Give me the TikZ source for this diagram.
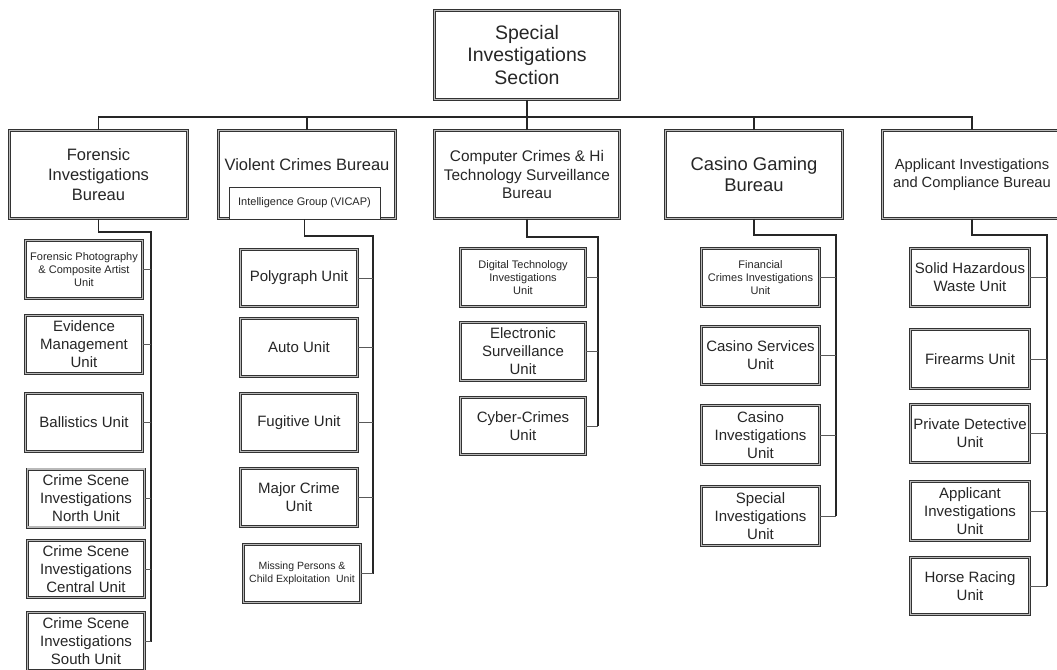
\documentclass[tikz,border=0pt]{standalone}
\usepackage{fontspec}
\setmainfont{Liberation Sans}
\begin{document}
\begin{tikzpicture}[x=1pt,y=-1pt,
  dbox/.style={draw=black!80, line width=0.7pt, double=gray!55, double distance=1.6pt,
    fill=white, align=center, inner sep=0pt, text=black!85},
  ubox/.style={dbox, font=\fontsize{15}{18}\selectfont},
  sbox/.style={dbox, font=\fontsize{11}{13}\selectfont},
  sgl/.style={draw=black!80, line width=0.8pt, fill=white, inner sep=0pt, text=black!85,
    font=\fontsize{11}{13}\selectfont},
  busline/.style={draw=black!85, line width=1.2pt},
  trunk/.style={draw=black!85, line width=1.3pt},
  stub/.style={draw=black!65, line width=0.9pt}]
\useasboundingbox (0,0) rectangle (1057,669);
\fill[white] (0,0) rectangle (1057,669);
\clip (0,0) rectangle (1057,669);

% top
\node[dbox, font=\fontsize{19.5}{22.5}\selectfont, minimum width=185pt, minimum height=89pt] (sis) at (527,55) {Special\\Investigations\\Section};

% level 2
\node[dbox, font=\fontsize{16.5}{20}\selectfont, minimum width=178pt, minimum height=88pt] (fib) at (98.5,174.5) {Forensic\\Investigations\\Bureau};
\node[dbox, font=\fontsize{16.5}{20}\selectfont, minimum width=177pt, minimum height=88pt, text depth=0pt] (vcb) at (307,174.5) {};
\node[font=\fontsize{16.5}{20}\selectfont, text=black!85, inner sep=0pt] (vcbt) at (307,165) {Violent Crimes Bureau};
\node[sgl, minimum width=151pt, minimum height=32pt] (vicap) at (304.5,203) {Intelligence Group (VICAP)};
\node[dbox, font=\fontsize{15.4}{18.5}\selectfont, minimum width=185pt, minimum height=88pt] (ccb) at (527,174.5) {Computer Crimes \& Hi\\Technology Surveillance\\Bureau};
\node[dbox, font=\fontsize{18.4}{21}\selectfont, minimum width=177pt, minimum height=88pt] (cgb) at (754,174.5) {Casino Gaming\\Bureau};
\node[dbox, font=\fontsize{14.7}{18}\selectfont, minimum width=179pt, minimum height=88pt] (aib) at (972,174.5) {Applicant Investigations\\and Compliance Bureau};

% bus
\coordinate (bus) at (527,117);
\draw[busline] (sis.south) -- (sis.south |- bus);
\draw[busline] (fib.north) -- (fib.north |- bus) -- (aib.north |- bus) -- (aib.north);
\draw[busline] (vcb.north) -- (vcb.north |- bus);
\draw[busline] (ccb.north) -- (ccb.north |- bus);
\draw[busline] (cgb.north) -- (cgb.north |- bus);

% Forensic children
\node[sbox, minimum width=117pt, minimum height=58pt] (f1) at (84,269.5) {Forensic Photography\\\& Composite Artist\\Unit};
\node[ubox, minimum width=117pt, minimum height=58pt] (f2) at (84,344.5) {Evidence\\Management\\Unit};
\node[ubox, minimum width=117pt, minimum height=58pt] (f3) at (84,422.5) {Ballistics Unit};
\node[ubox, minimum width=117pt, minimum height=58pt] (f4) at (86,498) {Crime Scene\\Investigations\\North Unit};
\node[ubox, minimum width=117pt, minimum height=57pt] (f5) at (86,569) {Crime Scene\\Investigations\\Central Unit};
\node[ubox, minimum width=117pt, minimum height=58pt] (f6) at (86,641.5) {Crime Scene\\Investigations\\South Unit};
\coordinate (fe) at (151,232);
\draw[trunk] (fib.south) |- (fe) -- (fe |- f6.east);
\foreach \n in {f1,f2,f3,f4,f5,f6} \draw[stub] (\n.east) -- (\n.east -| fe);

% Violent children
\node[ubox, minimum width=117pt, minimum height=57pt] (v1) at (299,278) {Polygraph Unit};
\node[ubox, minimum width=117pt, minimum height=58pt] (v2) at (299,347.5) {Auto Unit};
\node[ubox, minimum width=117pt, minimum height=58pt] (v3) at (299,422.5) {Fugitive Unit};
\node[ubox, minimum width=117pt, minimum height=58pt] (v4) at (299,497.5) {Major Crime\\Unit};
\node[sbox, font=\fontsize{10.5}{13}\selectfont, minimum width=117pt, minimum height=58pt] (v5) at (302,573.5) {Missing Persons \&\\Child Exploitation~ Unit};
\coordinate (ve) at (373,236);
\draw[trunk] (vicap.south) |- (ve) -- (ve |- v5.east);
\foreach \n in {v1,v2,v3,v4,v5} \draw[stub] (\n.east) -- (\n.east -| ve);

% Computer children
\node[sbox, minimum width=125pt, minimum height=58pt] (c1) at (523,277.5) {Digital Technology\\Investigations\\Unit};
\node[ubox, minimum width=125pt, minimum height=58pt] (c2) at (523,351.5) {Electronic\\Surveillance\\Unit};
\node[ubox, minimum width=125pt, minimum height=57pt] (c3) at (523,426) {Cyber-Crimes\\Unit};
\coordinate (ce) at (598,237);
\draw[trunk] (ccb.south) |- (ce) -- (ce |- c3.east);
\foreach \n in {c1,c2,c3} \draw[stub] (\n.east) -- (\n.east -| ce);

% Casino children
\node[sbox, minimum width=118pt, minimum height=58pt] (g1) at (760.5,277.5) {Financial\\Crimes Investigations\\Unit};
\node[ubox, minimum width=118pt, minimum height=58pt] (g2) at (760.5,355.5) {Casino Services\\Unit};
\node[ubox, minimum width=118pt, minimum height=59pt] (g3) at (760.5,435) {Casino\\Investigations\\Unit};
\node[ubox, minimum width=118pt, minimum height=59pt] (g4) at (760.5,516) {Special\\Investigations\\Unit};
\coordinate (ge) at (836,235);
\draw[trunk] (cgb.south) |- (ge) -- (ge |- g4.east);
\foreach \n in {g1,g2,g3,g4} \draw[stub] (\n.east) -- (\n.east -| ge);

% Applicant children
\node[ubox, minimum width=119pt, minimum height=58pt] (a1) at (970,277.5) {Solid Hazardous\\Waste Unit};
\node[ubox, minimum width=119pt, minimum height=59pt] (a2) at (970,359) {Firearms Unit};
\node[ubox, minimum width=119pt, minimum height=58pt] (a3) at (970,433.5) {Private Detective\\Unit};
\node[ubox, minimum width=119pt, minimum height=59pt] (a4) at (970,511) {Applicant\\Investigations\\Unit};
\node[ubox, minimum width=119pt, minimum height=57pt] (a5) at (970,586) {Horse Racing\\Unit};
\coordinate (ae) at (1047,235);
\draw[trunk] (aib.south) |- (ae) -- (ae |- a5.east);
\foreach \n in {a1,a2,a3,a4,a5} \draw[stub] (\n.east) -- (\n.east -| ae);
\end{tikzpicture}
\end{document}
